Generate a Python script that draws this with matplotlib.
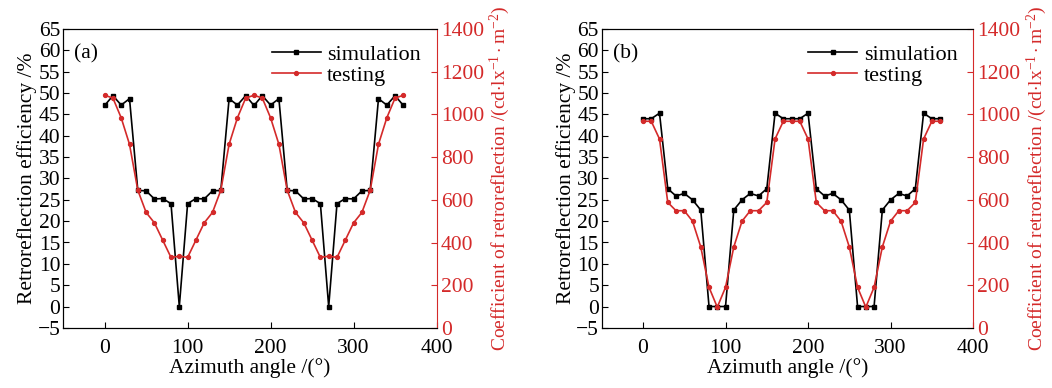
import matplotlib
matplotlib.use("Agg")
import matplotlib.pyplot as plt
import numpy as np

plt.rcParams['font.family'] = ['Liberation Serif', 'DejaVu Serif']
plt.rcParams['mathtext.fontset'] = 'custom'
plt.rcParams['mathtext.rm'] = 'Liberation Serif'
plt.rcParams['mathtext.it'] = 'Liberation Serif:italic'

angle = np.arange(0, 361, 10)

# panel (a)
sim_a = [47.1, 49.4, 47.2, 48.7, 27.2, 27.1, 25.2, 25.3, 24.1, 0.0,
         24.1, 25.3, 25.2, 27.1, 27.2, 48.7, 47.2, 49.4, 47.1, 49.4,
         47.2, 48.7, 27.2, 27.1, 25.2, 25.3, 24.1, 0.0, 24.1, 25.3,
         25.2, 27.1, 27.2, 48.7, 47.2, 49.4, 47.1]
test_a = [1090, 1077, 984, 860, 645, 541, 492, 411, 330, 336,
          330, 411, 492, 541, 645, 860, 984, 1077, 1090, 1077,
          984, 860, 645, 541, 492, 411, 330, 336, 330, 411,
          492, 541, 645, 860, 984, 1077, 1090]

# panel (b)
sim_b = [44.0, 44.0, 45.3, 27.6, 25.9, 26.5, 25.0, 22.6, 0.0, 0.0,
         0.0, 22.6, 25.0, 26.5, 25.9, 27.6, 45.3, 44.0, 44.0, 44.0,
         45.3, 27.6, 25.9, 26.5, 25.0, 22.6, 0.0, 0.0, 0.0, 22.6,
         25.0, 26.5, 25.9, 27.6, 45.3, 44.0, 44.0]
test_b = [968, 968, 885, 588, 549, 549, 500, 379, 190, 97,
          190, 379, 500, 549, 549, 588, 885, 968, 968, 968,
          885, 588, 549, 549, 500, 379, 190, 97, 190, 379,
          500, 549, 549, 588, 885, 968, 968]

RED = '#d42a2a'
FS = 15.5

fig = plt.figure(figsize=(10.52, 3.88), dpi=100)
axes_pos = [[0.060, 0.155, 0.355, 0.770], [0.572, 0.155, 0.353, 0.770]]
panels = [("(a)", sim_a, test_a), ("(b)", sim_b, test_b)]

for pos, (tag, sim, test) in zip(axes_pos, panels):
    ax = fig.add_axes(pos)
    ax2 = ax.twinx()

    l1, = ax.plot(angle, sim, color='black', lw=1.2, marker='s', ms=2.6,
                  label='simulation')
    l2, = ax2.plot(angle, test, color=RED, lw=1.2, marker='o', ms=2.8,
                   label='testing')

    ax.set_xlim(-50, 400)
    ax.set_ylim(-5, 65)
    ax.set_yticks(np.arange(-5, 66, 5))
    ax.set_xticks([0, 100, 200, 300, 400])
    ax2.set_ylim(0, 1400)
    ax2.set_yticks(np.arange(0, 1401, 200))

    ax.tick_params(direction='in', labelsize=FS, length=4, pad=2)
    ax.tick_params(axis='x', pad=8)
    ax2.tick_params(direction='in', labelsize=FS, length=4, colors=RED, pad=3)
    ax2.spines['right'].set_color(RED)
    ax.spines['right'].set_visible(False)

    ax.set_xlabel('Azimuth angle /(°)', fontsize=FS, labelpad=0)
    ax.set_ylabel('Retroreflection efficiency /%', fontsize=FS, labelpad=0)
    ax2.set_ylabel(r'Coefficient of retroreflection /(cd$\cdot$lx$^{-1}\cdot$m$^{-2}$)',
                   fontsize=14, color=RED, labelpad=3)

    ax.text(0.03, 0.95, tag, transform=ax.transAxes, fontsize=FS,
            ha='left', va='top')
    ax.legend([l1, l2], ['simulation', 'testing'], loc='upper right',
              frameon=False, fontsize=16, handlelength=2.2,
              handletextpad=0.3, labelspacing=0.0, borderaxespad=0.3)

fig.savefig('out.png', dpi=100)
